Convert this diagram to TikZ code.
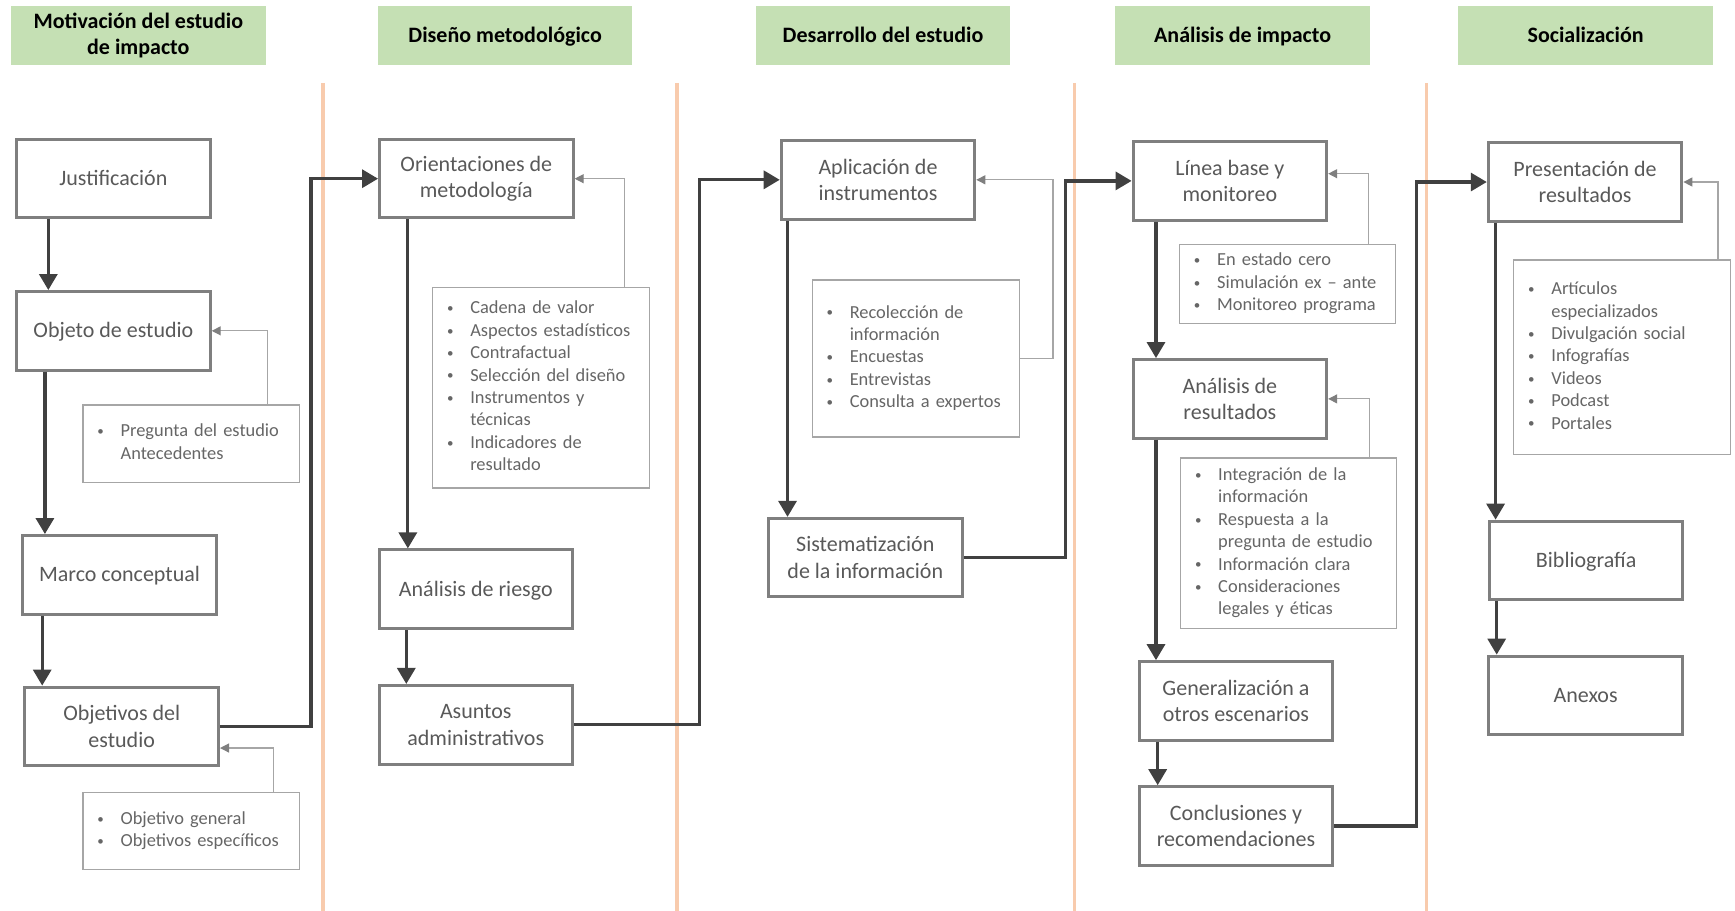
\documentclass[tikz,border=0pt]{standalone}
\usepackage{fontspec}
\setmainfont{Carlito}
\usepackage{xcolor}
\usetikzlibrary{arrows.meta}
\definecolor{phasegreen}{HTML}{C5E0B4}
\definecolor{laneorange}{HTML}{F8CBAD}
\definecolor{boxgray}{HTML}{7F7F7F}
\definecolor{boxtext}{HTML}{595959}
\definecolor{flowgray}{HTML}{404040}
\definecolor{notegray}{HTML}{A6A6A6}
\definecolor{notetext}{HTML}{666666}
\newcommand{\dotitem}{\raisebox{0.6pt}{\fontsize{6.5}{6}\selectfont\textbullet}}
\newcommand{\notelist}[1]{\begin{tabular}{@{}p{11.6pt}@{}l@{}}#1\end{tabular}}

\begin{document}
\begin{tikzpicture}[x=0.5533pt, y=-0.5533pt,
    phase/.style={fill=phasegreen, minimum width=127.3pt, minimum height=29.9pt, align=center, font=\fontsize{11}{13.3}\selectfont\bfseries},
    box/.style={draw=boxgray, line width=1.5pt, fill=white, minimum width=96.8pt, minimum height=39.3pt, align=center, text=boxtext, font=\fontsize{11}{13.3}\selectfont, inner sep=2pt},
    single/.style={text height=9.2pt, text depth=2.4pt},
    notebox/.style={draw=notegray, line width=0.6pt, fill=white, align=left, text=notetext, font=\fontsize{9.2}{11.2}\selectfont, inner xsep=7.2pt, inner ysep=2pt},
    flow/.style={draw=flowgray, line width=1.6pt, -{Triangle[length=8pt, width=9pt]}},
    hint/.style={draw=notegray, line width=0.6pt, -{Triangle[length=4.5pt, width=4.5pt, color=boxgray]}},
    lane/.style={draw=laneorange, line width=1.7pt}]
    \useasboundingbox (0, 0) rectangle (1568, 823);

    \draw[lane] (292, 75) -- (292, 823);
    \draw[lane] (612, 75) -- (612, 823);
    \draw[lane] (971, 75) -- (971, 823);
    \draw[lane] (1289, 75) -- (1289, 823);

    \node[phase] at (125, 32) (h1) {Motivación del estudio\\de impacto};
    \node[phase, single] at (456.5, 32) (h2) {Diseño metodológico};
    \node[phase, single] at (798, 32) (h3) {Desarrollo del estudio};
    \node[phase, single] at (1123, 32) (h4) {Análisis de impacto};
    \node[phase, single] at (1433, 32) (h5) {Socialización};

    \node[box, single] at (102.5, 161.5) (just) {Justificación};
    \node[box, single] at (102.5, 299) (objeto) {Objeto de estudio};
    \node[box, single] at (108, 519.5) (marco) {Marco conceptual};
    \node[box] at (110, 656.5) (objetivos) {Objetivos del\\estudio};
    \node[box] at (430.5, 161.5) (orient) {Orientaciones de\\metodología};
    \node[box, single] at (430, 532.5) (riesgo) {Análisis de riesgo};
    \node[box] at (430, 655) (asuntos) {Asuntos\\administrativos};
    \node[box] at (793.5, 162.5) (aplic) {Aplicación de\\instrumentos};
    \node[box] at (782, 504) (sistem) {Sistematización\\de la información};
    \node[box] at (1111.5, 163.5) (linea) {Línea base y\\monitoreo};
    \node[box] at (1111.5, 360.5) (anres) {Análisis de\\resultados};
    \node[box] at (1117, 633.5) (gener) {Generalización a\\otros escenarios};
    \node[box] at (1117, 746.5) (concl) {Conclusiones y\\recomendaciones};
    \node[box] at (1432.5, 164.5) (present) {Presentación de\\resultados};
    \node[box, single] at (1433.5, 506.5) (biblio) {Bibliografía};
    \node[box, single] at (1433, 628.5) (anexos) {Anexos};

    \node[notebox, text width=94pt, minimum height=38.7pt] at (173, 401) (n1)
        {\notelist{\dotitem & Pregunta del estudio\\ & Antecedentes}};
    \node[notebox, text width=94pt, minimum height=38.7pt] at (173, 751) (n2)
        {\notelist{\dotitem & Objetivo general\\ \dotitem & Objetivos específicos}};
    \node[notebox, text width=94pt, minimum height=100.1pt] at (489, 350.5) (n3)
        {\notelist{\dotitem & Cadena de valor\\ \dotitem & Aspectos estadísticos\\ \dotitem & Contrafactual\\ \dotitem & Selección del diseño\\ \dotitem & Instrumentos y\\ & técnicas\\ \dotitem & Indicadores de\\ & resultado}};
    \node[notebox, text width=89.1pt, minimum height=78.6pt] at (827.5, 324) (n4)
        {\notelist{\dotitem & Recolección de\\ & información\\ \dotitem & Encuestas\\ \dotitem & Entrevistas\\ \dotitem & Consulta a expertos}};
    \node[notebox, text width=93.5pt, minimum height=39.3pt] at (1163.5, 256.5) (n5)
        {\notelist{\dotitem & En estado cero\\ \dotitem & Simulación ex – ante\\ \dotitem & Monitoreo programa}};
    \node[notebox, text width=93.5pt, minimum height=85.2pt] at (1164.5, 491) (n6)
        {\notelist{\dotitem & Integración de la\\ & información\\ \dotitem & Respuesta a la\\ & pregunta de estudio\\ \dotitem & Información clara\\ \dotitem & Consideraciones\\ & legales y éticas}};
    \node[notebox, text width=94pt, minimum height=97.4pt] at (1466, 323) (n7)
        {\notelist{\dotitem & Artículos\\ & especializados\\ \dotitem & Divulgación social\\ \dotitem & Infografías\\ \dotitem & Videos\\ \dotitem & Podcast\\ \dotitem & Portales}};

    \coordinate (bus1) at (281, 0);
    \coordinate (bus2) at (632, 0);
    \coordinate (bus3) at (963, 0);
    \coordinate (bus4) at (1280, 0);

    \draw[flow] ([xshift=16.6pt]just.south west) -- ([xshift=16.6pt]just.south west |- objeto.north);
    \draw[flow] ([xshift=14.9pt]objeto.south west) -- ([xshift=14.9pt]objeto.south west |- marco.north);
    \draw[flow] ([xshift=10.5pt]marco.south west) -- ([xshift=10.5pt]marco.south west |- objetivos.north);
    \draw[flow] (objetivos.east) -| (bus1 |- orient.west) -- (orient.west);
    \draw[flow] ([xshift=14.9pt]orient.south west) -- ([xshift=14.9pt]orient.south west |- riesgo.north);
    \draw[flow] ([xshift=14.4pt]riesgo.south west) -- ([xshift=14.4pt]riesgo.south west |- asuntos.north);
    \draw[flow] (asuntos.east) -| (bus2 |- aplic.west) -- (aplic.west);
    \draw[flow] ([xshift=3.9pt]aplic.south west) -- ([xshift=3.9pt]aplic.south west |- sistem.north);
    \draw[flow] (sistem.east) -| (bus3 |- linea.west) -- (linea.west);
    \draw[flow] ([xshift=12.2pt]linea.south west) -- ([xshift=12.2pt]linea.south west |- anres.north);
    \draw[flow] ([xshift=12.2pt]anres.south west) -- ([xshift=12.2pt]anres.south west |- gener.north);
    \draw[flow] ([xshift=10pt]gener.south west) -- ([xshift=10pt]gener.south west |- concl.north);
    \draw[flow] (concl.east) -| (bus4 |- present.west) -- (present.west);
    \draw[flow] ([xshift=4.4pt]present.south west) -- ([xshift=4.4pt]present.south west |- biblio.north);
    \draw[flow] ([xshift=4.4pt]biblio.south west) -- ([xshift=4.4pt]biblio.south west |- anexos.north);

    \draw[hint] ([xshift=-16.6pt]n1.north east) |- (objeto.east);
    \draw[hint] ([xshift=-13.3pt]n2.north east) |- ([yshift=-10.8pt]objetivos.east);
    \draw[hint] ([xshift=-12.7pt]n3.north east) |- (orient.east);
    \draw[hint] (n4.east) -- ++(30, 0) |- (aplic.east);
    \draw[hint] ([xshift=-13.8pt]n5.north east) |- ([yshift=3.6pt]linea.east);
    \draw[hint] ([xshift=-13.8pt]n6.north east) |- (anres.east);
    \draw[hint] ([xshift=-6.6pt]n7.north east) |- (present.east);
\end{tikzpicture}
\end{document}
